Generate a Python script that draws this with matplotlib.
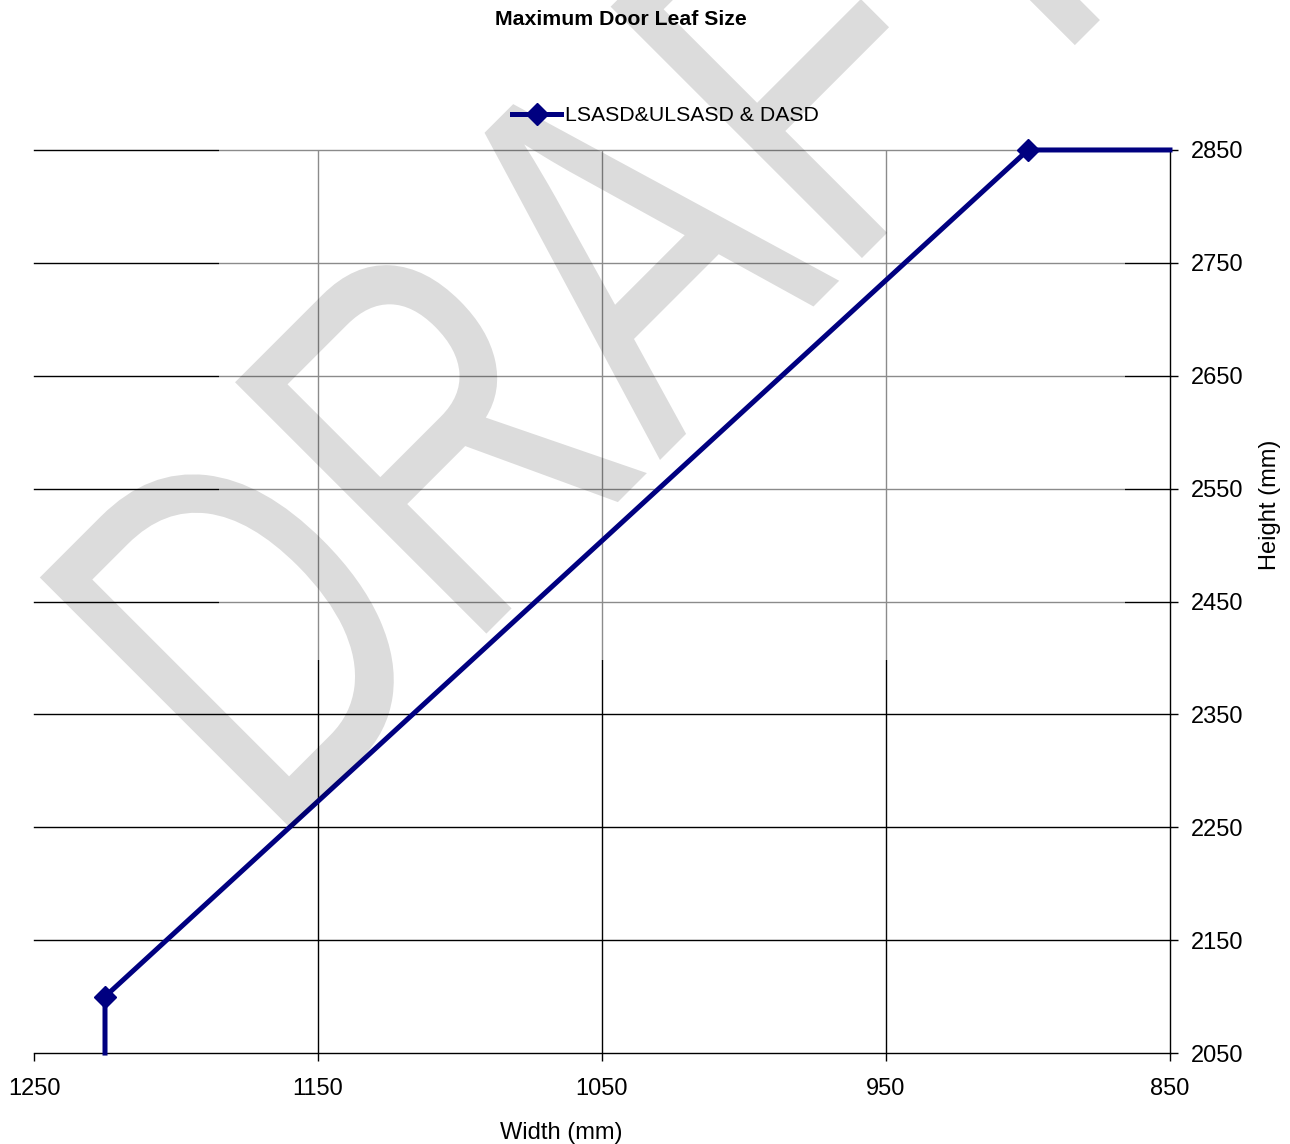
import matplotlib.pyplot as plt
import matplotlib.patches as mpatches
from matplotlib.patheffects import AbstractPathEffect
from matplotlib.transforms import Affine2D

plt.rcParams['font.family'] = ['Liberation Sans', 'DejaVu Sans']

# series data (width, height) in mm
width_mm = [1225, 1225, 900, 850]
height_mm = [2050, 2100, 2850, 2850]
marker_idx = [1, 2]
series_name = 'LSASD&ULSASD & DASD'

x_ticks = [1250, 1150, 1050, 950, 850]
y_ticks = [2050, 2150, 2250, 2350, 2450, 2550, 2650, 2750, 2850]


class Condense(AbstractPathEffect):
    """squeeze glyphs along the baseline (narrow watermark lettering)"""
    def __init__(self, factor):
        super().__init__()
        self.factor = factor

    def draw_path(self, renderer, gc, tpath, affine, rgbFace=None):
        renderer.draw_path(gc, tpath, Affine2D().scale(self.factor, 1) + affine, rgbFace)


fig = plt.figure(figsize=(12.9, 11.44), dpi=100)
ax = fig.add_axes([0.02636, 0.0795, 0.8806, 0.7894])
ax.set_facecolor('none')

ax.set_xlim(1250, 850)
ax.set_ylim(2050, 2850)

# grid
for y in y_ticks[1:]:
    ax.axhline(y, color='black', lw=1.0, zorder=1, clip_on=False)
for x in x_ticks[1:-1]:
    ax.axvline(x, color='black', lw=1.0, zorder=1)

# faded block left over from the watermark layer
ax.add_patch(mpatches.Rectangle((866, 2398), 319, 460, facecolor='white',
                                alpha=0.55, edgecolor='none', zorder=1.5, clip_on=False))

ax.plot(width_mm, height_mm, color='#000080', lw=3.6, marker='D', markersize=11,
        markevery=marker_idx, label=series_name, zorder=3, clip_on=False)

for s in ['left', 'top']:
    ax.spines[s].set_visible(False)
ax.spines['right'].set_linewidth(1.0)
ax.spines['bottom'].set_linewidth(1.0)

ax.yaxis.tick_right()
ax.set_xticks(x_ticks)
ax.set_yticks(y_ticks)
ax.tick_params(axis='both', direction='out', length=6, width=1, labelsize=17)
ax.tick_params(axis='x', pad=12)
ax.tick_params(axis='y', pad=9)

ax.set_xlabel('Width (mm)', fontsize=17)
ax.xaxis.set_label_coords(0.464, -0.0765)
ax.yaxis.set_label_position('right')
ax.set_ylabel('Height (mm)', fontsize=17)
ax.yaxis.set_label_coords(1.078, 0.607)

fig.text(0.4814, 0.983, 'Maximum Door Leaf Size', ha='center', va='center',
         fontsize=15.3, fontweight='bold')

fig.legend(loc='center', bbox_to_anchor=(0.516, 0.899), frameon=False, fontsize=15.3,
           handlelength=2.3, handletextpad=0.2)

# DRAFT watermark
fig.text(0.2085, 0.2561, 'DRAFT', rotation=45, rotation_mode='anchor', ha='left',
         va='baseline', fontsize=372, color='black', alpha=0.137, zorder=5,
         path_effects=[Condense(0.74)])

fig.savefig('out.png', dpi=100)
